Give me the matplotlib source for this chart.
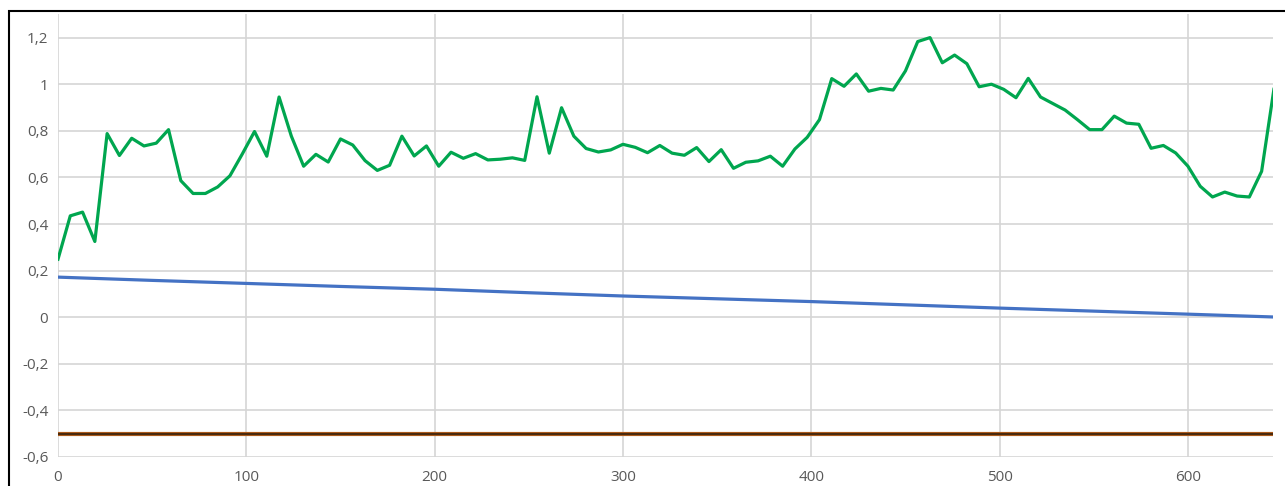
import numpy as np
import matplotlib
matplotlib.use("Agg")
import matplotlib.pyplot as plt
from matplotlib.patches import Rectangle

# ---- data ----
green_step = 6.52  # spacing of the samples on the x axis
green_y = [0.249, 0.435, 0.451, 0.325, 0.788, 0.694, 0.768, 0.735, 0.747, 0.805,
           0.586, 0.531, 0.531, 0.559, 0.607, 0.700, 0.797, 0.691, 0.945, 0.777,
           0.648, 0.699, 0.666, 0.765, 0.739, 0.672, 0.630, 0.652, 0.777, 0.692,
           0.735, 0.648, 0.708, 0.682, 0.702, 0.675, 0.678, 0.684, 0.673, 0.946,
           0.704, 0.899, 0.777, 0.724, 0.709, 0.718, 0.742, 0.729, 0.706, 0.737,
           0.704, 0.695, 0.728, 0.668, 0.719, 0.639, 0.665, 0.671, 0.691, 0.648,
           0.722, 0.772, 0.848, 1.024, 0.991, 1.044, 0.970, 0.982, 0.975, 1.057,
           1.183, 1.200, 1.092, 1.125, 1.088, 0.989, 1.000, 0.978, 0.942, 1.025,
           0.945, 0.917, 0.889, 0.848, 0.805, 0.805, 0.863, 0.833, 0.828, 0.725,
           0.737, 0.705, 0.648, 0.562, 0.516, 0.537, 0.520, 0.516, 0.626, 0.978]
green_x = np.arange(len(green_y)) * green_step

blue_x = [0, 50, 100, 150, 200, 250, 300, 350, 400, 450, 500, 550, 600, 645]
blue_y = [0.172, 0.158, 0.145, 0.132, 0.120, 0.105, 0.091, 0.079, 0.067, 0.053,
          0.039, 0.026, 0.013, 0.001]

brown_x = [0, 645]
brown_y = [-0.5, -0.5]

y_ticks = [-0.6, -0.4, -0.2, 0, 0.2, 0.4, 0.6, 0.8, 1.0, 1.2]
y_tick_labels = ["-0,6", "-0,4", "-0,2", "0", "0,2", "0,4", "0,6", "0,8", "1", "1,2"]
x_ticks = [0, 100, 200, 300, 400, 500, 600]
x_tick_labels = ["0", "100", "200", "300", "400", "500", "600"]

plt.rcParams['font.family'] = ['Open Sans', 'DejaVu Sans']

W, H = 1285, 486
fig = plt.figure(figsize=(W / 100, H / 100), dpi=100)
fig.patch.set_facecolor("white")

left_px, right_px = 58, 1273
bottom_px, top_px = 457, 14.3
ax = fig.add_axes([left_px / W, 1 - bottom_px / H,
                   (right_px - left_px) / W, (bottom_px - top_px) / H])

ax.plot(brown_x, brown_y, color="#c0651f", lw=3.0, solid_capstyle="butt", zorder=3)
ax.plot(brown_x, brown_y, color="#4a2a0e", lw=1.7, solid_capstyle="butt", zorder=4)
ax.plot(blue_x, blue_y, color="#4472C4", lw=2.3, zorder=5)
ax.plot(green_x, green_y, color="#00A64F", lw=2.3, zorder=6)

ax.set_xlim(0, 645)
ax.set_ylim(-0.6, 1.3)
ax.set_yticks(y_ticks)
ax.set_yticklabels(y_tick_labels)
ax.set_xticks(x_ticks)
ax.set_xticklabels(x_tick_labels)

for s in ax.spines.values():
    s.set_visible(False)
ax.grid(True, color="#d5d5d5", lw=1.2)
ax.set_axisbelow(True)
ax.tick_params(axis="both", length=0, labelsize=11, labelcolor="#595959")
ax.tick_params(axis="y", pad=7)
ax.tick_params(axis="x", pad=9)

# outer border of the chart area (top and left edges visible)
fig.add_artist(Rectangle((8.5 / W, -0.2), 1.5, 1 - 11 / H + 0.2,
                         transform=fig.transFigure, fill=False,
                         edgecolor="black", lw=1.5, clip_on=False))

fig.savefig("out.png", dpi=100)
